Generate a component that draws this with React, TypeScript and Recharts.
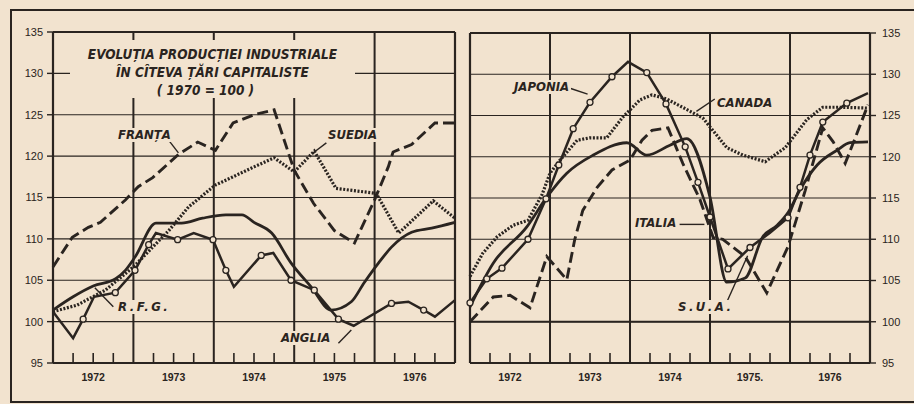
import React from "react";
import { LineChart, Line, XAxis, YAxis, CartesianGrid, ReferenceLine } from "recharts";

const INK = "#2a2420";
const PAPER = "#f2e3cf";
const HAND = "'DejaVu Sans Condensed', 'Liberation Sans Narrow', 'DejaVu Sans', sans-serif";
const PLAIN = "'Liberation Sans', Arial, sans-serif";

// axes
const YEARS = [1972, 1973, 1974, 1975, 1976];
const YEAR_LINES = [1973, 1974, 1975, 1976];
const Y_TICKS = [95, 100, 105, 110, 115, 120, 125, 130, 135];
const LEFT_YEAR_LABELS = ["1972", "1973", "1974", "1975", "1976"];
const RIGHT_YEAR_LABELS = ["1972", "1973", "1974", "1975.", "1976"];
const QUARTER_TICKS = YEARS.flatMap((y) => [y + 0.25, y + 0.5, y + 0.75]);

// left panel (1970 = 100)
const FRANTA = [
  { t: 1972.0, v: 106.6 }, { t: 1972.24, v: 110.2 }, { t: 1972.44, v: 111.4 }, { t: 1972.59, v: 112.0 },
  { t: 1972.9, v: 114.7 }, { t: 1973.06, v: 116.3 }, { t: 1973.24, v: 117.4 }, { t: 1973.56, v: 120.2 },
  { t: 1973.8, v: 121.7 }, { t: 1974.02, v: 120.7 }, { t: 1974.24, v: 124.0 }, { t: 1974.5, v: 125.0 },
  { t: 1974.75, v: 125.6 }, { t: 1975.0, v: 118.3 }, { t: 1975.24, v: 114.3 }, { t: 1975.5, v: 111.0 },
  { t: 1975.75, v: 109.5 }, { t: 1976.0, v: 114.7 }, { t: 1976.17, v: 118.7 }, { t: 1976.23, v: 120.5 },
  { t: 1976.46, v: 121.4 }, { t: 1976.75, v: 124.0 }, { t: 1977.0, v: 124.0 },
];

const SUEDIA = [
  { t: 1972.0, v: 101.2 }, { t: 1972.3, v: 102.0 }, { t: 1972.65, v: 103.8 }, { t: 1973.0, v: 106.6 },
  { t: 1973.44, v: 111.0 }, { t: 1973.69, v: 113.9 }, { t: 1974.02, v: 116.5 }, { t: 1974.5, v: 118.7 },
  { t: 1974.75, v: 119.8 }, { t: 1975.0, v: 118.1 }, { t: 1975.25, v: 120.6 }, { t: 1975.52, v: 116.1 },
  { t: 1976.02, v: 115.5 }, { t: 1976.3, v: 110.7 }, { t: 1976.73, v: 114.6 }, { t: 1977.0, v: 112.5 },
];

const RFG = [
  { t: 1972.0, v: 101.4 }, { t: 1972.25, v: 103.0 }, { t: 1972.5, v: 104.3 }, { t: 1972.78, v: 105.2 },
  { t: 1972.9, v: 106.2 }, { t: 1973.02, v: 107.8 }, { t: 1973.28, v: 111.9 }, { t: 1973.6, v: 111.9 },
  { t: 1973.86, v: 112.5 }, { t: 1974.15, v: 112.9 }, { t: 1974.35, v: 112.9 }, { t: 1974.5, v: 112.0 },
  { t: 1974.72, v: 110.7 }, { t: 1974.96, v: 107.1 }, { t: 1975.21, v: 104.2 }, { t: 1975.46, v: 101.4 },
  { t: 1975.71, v: 102.4 }, { t: 1975.87, v: 104.7 }, { t: 1976.05, v: 107.1 }, { t: 1976.21, v: 109.0 },
  { t: 1976.46, v: 110.8 }, { t: 1976.71, v: 111.3 }, { t: 1977.0, v: 112.0 },
];

const ANGLIA = [
  { t: 1972.0, v: 101.2 }, { t: 1972.25, v: 98.0 }, { t: 1972.375, v: 100.3 }, { t: 1972.51, v: 103.0 },
  { t: 1972.775, v: 103.5 }, { t: 1973.02, v: 106.2 }, { t: 1973.19, v: 109.3 }, { t: 1973.28, v: 110.7 },
  { t: 1973.55, v: 109.9 }, { t: 1973.75, v: 110.7 }, { t: 1973.99, v: 109.9 }, { t: 1974.15, v: 106.2 },
  { t: 1974.25, v: 104.2 }, { t: 1974.59, v: 108.0 }, { t: 1974.74, v: 108.3 }, { t: 1974.96, v: 105.0 },
  { t: 1975.25, v: 103.8 }, { t: 1975.55, v: 100.3 }, { t: 1975.74, v: 99.5 }, { t: 1976.21, v: 102.2 },
  { t: 1976.42, v: 102.4 }, { t: 1976.61, v: 101.4 }, { t: 1976.75, v: 100.6 }, { t: 1977.0, v: 102.6 },
];
const ANGLIA_MARKED = [2, 4, 5, 6, 8, 10, 11, 13, 15, 16, 17, 19, 21];

// right panel (1970 = 100)
const JAPONIA = [
  { t: 1972.0, v: 102.3 }, { t: 1972.21, v: 105.2 }, { t: 1972.4, v: 106.5 }, { t: 1972.725, v: 110.0 },
  { t: 1972.95, v: 114.9 }, { t: 1973.11, v: 119.0 }, { t: 1973.29, v: 123.4 }, { t: 1973.5, v: 126.6 },
  { t: 1973.775, v: 129.7 }, { t: 1973.975, v: 131.5 }, { t: 1974.21, v: 130.2 }, { t: 1974.45, v: 126.4 },
  { t: 1974.69, v: 121.2 }, { t: 1974.85, v: 116.9 }, { t: 1975.0, v: 112.7 }, { t: 1975.225, v: 106.4 },
  { t: 1975.5, v: 109.0 }, { t: 1975.75, v: 110.8 }, { t: 1975.975, v: 112.6 }, { t: 1976.125, v: 116.3 },
  { t: 1976.25, v: 120.2 }, { t: 1976.41, v: 124.2 }, { t: 1976.71, v: 126.5 }, { t: 1976.975, v: 127.7 },
];
const JAPONIA_MARKED = [0, 1, 2, 3, 4, 5, 6, 7, 8, 10, 11, 12, 13, 14, 15, 16, 18, 19, 20, 21, 22];

const SUA = [
  { t: 1972.0, v: 101.8 }, { t: 1972.29, v: 107.1 }, { t: 1972.71, v: 111.5 }, { t: 1972.96, v: 115.1 },
  { t: 1973.21, v: 118.0 }, { t: 1973.54, v: 120.2 }, { t: 1973.96, v: 121.7 }, { t: 1974.21, v: 120.2 },
  { t: 1974.5, v: 121.4 }, { t: 1974.71, v: 122.2 }, { t: 1975.0, v: 115.1 }, { t: 1975.21, v: 104.8 },
  { t: 1975.44, v: 105.3 }, { t: 1975.66, v: 110.3 }, { t: 1975.84, v: 111.7 }, { t: 1975.98, v: 113.3 },
  { t: 1976.125, v: 116.0 }, { t: 1976.34, v: 119.0 }, { t: 1976.59, v: 120.8 }, { t: 1976.75, v: 121.7 },
  { t: 1976.975, v: 121.8 },
];

const CANADA = [
  { t: 1972.0, v: 105.5 }, { t: 1972.16, v: 108.3 }, { t: 1972.34, v: 110.3 }, { t: 1972.54, v: 111.7 },
  { t: 1972.725, v: 112.3 }, { t: 1972.9, v: 115.4 }, { t: 1973.0, v: 118.0 }, { t: 1973.125, v: 119.6 },
  { t: 1973.34, v: 122.0 }, { t: 1973.5, v: 122.3 }, { t: 1973.71, v: 122.3 }, { t: 1973.91, v: 124.8 },
  { t: 1974.125, v: 126.9 }, { t: 1974.275, v: 127.5 }, { t: 1974.46, v: 127.0 }, { t: 1974.91, v: 124.7 },
  { t: 1975.21, v: 121.1 }, { t: 1975.41, v: 120.2 }, { t: 1975.69, v: 119.4 }, { t: 1975.94, v: 121.1 },
  { t: 1976.21, v: 124.5 }, { t: 1976.41, v: 126.0 }, { t: 1976.625, v: 126.0 }, { t: 1976.975, v: 125.9 },
];

const ITALIA = [
  { t: 1972.0, v: 100.0 }, { t: 1972.29, v: 103.0 }, { t: 1972.5, v: 103.2 }, { t: 1972.75, v: 101.7 },
  { t: 1972.96, v: 107.9 }, { t: 1973.21, v: 105.1 }, { t: 1973.31, v: 110.0 }, { t: 1973.41, v: 113.5 },
  { t: 1973.59, v: 116.3 }, { t: 1973.775, v: 118.4 }, { t: 1974.0, v: 119.6 }, { t: 1974.15, v: 122.0 },
  { t: 1974.275, v: 123.2 }, { t: 1974.475, v: 123.5 }, { t: 1974.66, v: 119.2 }, { t: 1974.875, v: 114.8 },
  { t: 1975.04, v: 110.2 }, { t: 1975.16, v: 110.0 }, { t: 1975.44, v: 107.9 }, { t: 1975.71, v: 103.5 },
  { t: 1975.975, v: 109.1 }, { t: 1976.19, v: 115.9 }, { t: 1976.41, v: 123.5 }, { t: 1976.54, v: 121.8 },
  { t: 1976.69, v: 119.2 }, { t: 1976.84, v: 122.9 }, { t: 1976.975, v: 126.3 },
];

// leader lines from the labels to the curves
const LEFT_LEADERS = [
  [{ x: 1973.44, y: 121.9 }, { x: 1973.56, y: 120.4 }],
  [{ x: 1975.4, y: 121.6 }, { x: 1975.25, y: 120.5 }],
  [{ x: 1972.75, y: 101.8 }, { x: 1972.52, y: 104.1 }],
  [{ x: 1975.55, y: 97.4 }, { x: 1975.71, y: 99.0 }],
];
const RIGHT_LEADERS = [
  [{ x: 1973.25, y: 128.3 }, { x: 1973.47, y: 127.6 }],
  [{ x: 1975.06, y: 127.0 }, { x: 1974.83, y: 125.5 }],
  [{ x: 1974.62, y: 111.8 }, { x: 1974.93, y: 111.8 }],
  [{ x: 1975.22, y: 102.6 }, { x: 1975.47, y: 108.0 }],
];

const makeTick = (labels: string[]) => (props: any) => {
  const { x, y, payload } = props;
  const year = Math.floor(payload.value);
  const q = Math.round((payload.value - year) * 4);
  return (
    <g>
      <line x1={x} x2={x} y1={y} y2={y - 10} stroke={INK} strokeWidth={1.6} />
      {q === 2 && (
        <text x={x} y={y + 18} textAnchor="middle" fontSize={10.5} fontWeight="bold" fontFamily={PLAIN} fill={INK}>
          {labels[YEARS.indexOf(year)]}
        </text>
      )}
    </g>
  );
};

const markedDot = (marked: number[]) => (p: any) =>
  marked.includes(p.index) ? (
    <circle key={`d${p.index}`} cx={p.cx} cy={p.cy} r={3} fill={PAPER} stroke={INK} strokeWidth={1.3} />
  ) : (
    <g key={`d${p.index}`} />
  );

const Frame = ({ leaders, thickBase }: { leaders: any[]; thickBase?: boolean }) => (
  <>
    {YEAR_LINES.map((y) => (
      <ReferenceLine key={y} x={y} stroke={INK} strokeWidth={2} />
    ))}
    <ReferenceLine x={1972} stroke={INK} strokeWidth={2.2} />
    <ReferenceLine x={1977} stroke={INK} strokeWidth={2.2} />
    <ReferenceLine y={95} stroke={INK} strokeWidth={2.2} />
    <ReferenceLine y={135} stroke={INK} strokeWidth={2.2} />
    {thickBase && <ReferenceLine y={100} stroke={INK} strokeWidth={2} />}
    {leaders.map((s, i) => (
      <ReferenceLine key={`l${i}`} segment={s} stroke={INK} strokeWidth={1.4} ifOverflow="visible" />
    ))}
  </>
);

const Note = ({ x, y, children, size = 13, spacing = 0 }: any) => (
  <div
    style={{
      position: "absolute",
      left: x,
      top: y,
      background: PAPER,
      fontFamily: HAND,
      fontStyle: "italic",
      fontWeight: "bold",
      fontSize: size,
      letterSpacing: spacing,
      lineHeight: "14px",
      color: INK,
      padding: "0 2px",
      whiteSpace: "nowrap",
    }}
  >
    {children}
  </div>
);

const dashed = { stroke: INK, strokeWidth: 2.9, strokeDasharray: "11 5" };
const dotted = { stroke: INK, strokeWidth: 3.2, strokeDasharray: "2 1.6" };
const solid = { stroke: INK, strokeWidth: 2.8 };

export default function App() {
  return (
    <div
      style={{
        position: "absolute",
        left: 0,
        top: 0,
        width: 914,
        height: 404,
        background: PAPER,
        overflow: "hidden",
      }}
    >
      <div
        style={{
          position: "absolute",
          left: 10,
          top: 9,
          width: 1000,
          height: 390,
          border: `2px solid ${INK}`,
        }}
      />

      <div style={{ position: "absolute", left: 0, top: 0 }}>
        <LineChart width={470} height={404} margin={{ top: 32, right: 15, bottom: 11, left: 8 }}>
          <CartesianGrid vertical={false} stroke={INK} strokeWidth={1.2} />
          <XAxis
            dataKey="t"
            type="number"
            domain={[1972, 1977]}
            ticks={QUARTER_TICKS}
            height={30}
            axisLine={false}
            tickLine={false}
            tickSize={0}
            tickMargin={0}
            interval={0}
            tick={makeTick(LEFT_YEAR_LABELS)}
          />
          <YAxis
            domain={[95, 135]}
            ticks={Y_TICKS}
            width={45}
            axisLine={false}
            tickSize={6}
            tickMargin={4}
            tickLine={{ stroke: INK, strokeWidth: 1.4 }}
            interval={0}
            tick={{ fontSize: 11, fill: INK, fontFamily: PLAIN }}
          />
          {Frame({ leaders: LEFT_LEADERS })}
          <Line data={FRANTA} dataKey="v" {...dashed} dot={false} isAnimationActive={false} />
          <Line data={SUEDIA} dataKey="v" {...dotted} dot={false} isAnimationActive={false} />
          <Line data={RFG} dataKey="v" type="monotone" {...solid} dot={false} isAnimationActive={false} />
          <Line data={ANGLIA} dataKey="v" {...solid} strokeWidth={2.5} dot={markedDot(ANGLIA_MARKED)} isAnimationActive={false} />
        </LineChart>
      </div>

      <div style={{ position: "absolute", left: 460, top: 0 }}>
        <LineChart width={454} height={404} margin={{ top: 33, right: 0, bottom: 11, left: 10 }}>
          <CartesianGrid vertical={false} stroke={INK} strokeWidth={1.2} />
          <XAxis
            dataKey="t"
            type="number"
            domain={[1972, 1977]}
            ticks={QUARTER_TICKS}
            height={30}
            axisLine={false}
            tickLine={false}
            tickSize={0}
            tickMargin={0}
            interval={0}
            tick={makeTick(RIGHT_YEAR_LABELS)}
          />
          <YAxis
            orientation="right"
            domain={[95, 135]}
            ticks={Y_TICKS}
            width={44}
            axisLine={false}
            tickSize={6}
            tickMargin={6}
            tickLine={{ stroke: INK, strokeWidth: 1.4 }}
            interval={0}
            tick={{ fontSize: 11, fill: INK, fontFamily: PLAIN }}
          />
          {Frame({ leaders: RIGHT_LEADERS, thickBase: true })}
          <Line data={CANADA} dataKey="v" {...dotted} dot={false} isAnimationActive={false} />
          <Line data={ITALIA} dataKey="v" {...dashed} dot={false} isAnimationActive={false} />
          <Line data={SUA} dataKey="v" type="monotone" {...solid} dot={false} isAnimationActive={false} />
          <Line data={JAPONIA} dataKey="v" {...solid} strokeWidth={2.5} dot={markedDot(JAPONIA_MARKED)} isAnimationActive={false} />
        </LineChart>
      </div>

      <div
        style={{
          position: "absolute",
          left: 70,
          top: 40,
          width: 285,
          height: 58,
          background: PAPER,
          fontFamily: HAND,
          fontStyle: "italic",
          fontWeight: "bold",
          fontSize: 13.5,
          lineHeight: "18px",
          color: INK,
          textAlign: "center",
          paddingTop: 5,
          boxSizing: "border-box",
        }}
      >
        <div>EVOLUȚIA PRODUCȚIEI INDUSTRIALE</div>
        <div>ÎN CÎTEVA ȚĂRI CAPITALISTE</div>
        <div style={{ marginRight: 14 }}>( 1970 = 100 )</div>
      </div>

      <Note x={116} y={128}>FRANȚA</Note>
      <Note x={326} y={128}>SUEDIA</Note>
      <Note x={116} y={300} spacing={2.5}>R.F.G.</Note>
      <Note x={279} y={331}>ANGLIA</Note>
      <Note x={512} y={80}>JAPONIA</Note>
      <Note x={715} y={96}>CANADA</Note>
      <Note x={633} y={216}>ITALIA</Note>
      <Note x={676} y={300} spacing={2.5}>S.U.A.</Note>
    </div>
  );
}
